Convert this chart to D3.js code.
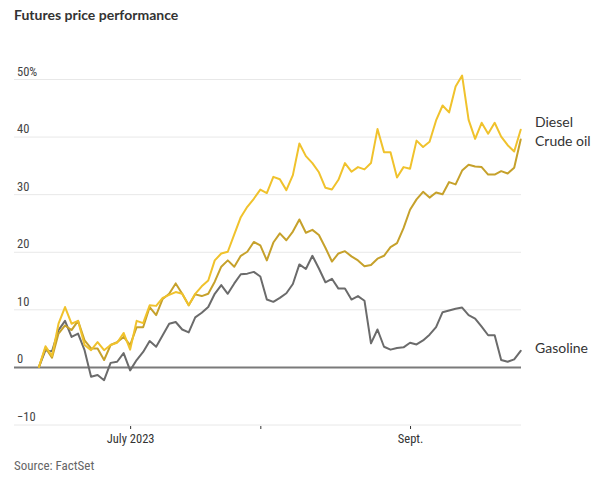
<!DOCTYPE html>
<html>
<head>
<meta charset="utf-8">
<script src="https://cdn.jsdelivr.net/npm/d3@7"></script>
<style>
  html, body { margin: 0; padding: 0; background: #fff; }
  svg { display: block; }
  .axis-label { font-family: "Liberation Sans Narrow", "Roboto Condensed", Lato, sans-serif; }
</style>
</head>
<body>
<svg id="chart" width="606" height="481"></svg>
<script>
// ---- data (trading-day index 0..74, mid-June to late Sept 2023) ----
const diesel = [0, 3.6, 1.9, 7.5, 10.4, 7.5, 8.0, 3.8, 2.9, 4.3, 2.9, 3.8, 4.2, 5.9, 3.0, 8.0, 7.6, 10.7, 10.6, 12.0,
  12.5, 13.0, 12.7, 10.7, 12.7, 14.0, 15.0, 18.5, 19.7, 20.0, 23.0, 26.0, 27.8, 29.2, 30.8, 30.2, 33.0, 32.6, 30.7, 33.3,
  38.8, 36.6, 35.4, 33.8, 31.1, 30.8, 32.5, 35.4, 33.9, 34.7, 34.3, 35.4, 41.3, 37.3, 37.3, 32.9, 34.7, 34.4, 39.3, 38.2,
  39.1, 42.8, 45.4, 44.2, 48.7, 50.6, 42.9, 39.6, 42.4, 40.5, 42.4, 40.0, 38.5, 37.4, 41.2];
const crude = [0, 3.3, 1.6, 5.8, 7.2, 6.4, 8.0, 4.6, 3.2, 3.2, 1.2, 3.8, 4.3, 5.2, 3.8, 6.9, 6.9, 10.4, 9.0, 11.8,
  12.7, 14.5, 12.7, 10.7, 12.6, 12.3, 12.7, 14.8, 17.4, 18.5, 17.4, 19.3, 20.0, 21.7, 21.1, 18.5, 21.6, 23.2, 22.0, 23.5,
  25.6, 23.3, 23.8, 22.9, 20.7, 18.3, 19.7, 20.1, 19.2, 18.5, 17.5, 17.7, 18.8, 19.3, 20.8, 21.5, 24.1, 27.3, 29.1, 30.4,
  29.4, 30.3, 30.0, 32.1, 31.7, 34.1, 35.1, 34.8, 34.7, 33.4, 33.4, 34.0, 33.6, 34.6, 39.5];
const gasoline = [0, 2.9, 2.7, 6.4, 8.0, 5.2, 5.8, 2.9, -1.7, -1.4, -2.3, 0.7, 0.9, 2.4, -0.6, 1.2, 2.6, 4.5, 3.5, 5.5,
  7.5, 7.8, 6.5, 6.0, 8.6, 9.4, 10.4, 12.7, 14.2, 12.7, 14.5, 16.1, 16.2, 16.5, 15.7, 11.7, 11.3, 12.0, 12.8, 14.4,
  17.8, 17.0, 19.3, 17.1, 14.7, 15.3, 13.6, 13.6, 11.7, 12.3, 11.5, 4.1, 6.5, 3.5, 3.0, 3.3, 3.4, 4.2, 3.9, 4.6,
  5.6, 6.9, 9.5, 9.8, 10.1, 10.3, 9.0, 8.4, 7.0, 5.5, 5.5, 1.2, 0.9, 1.3, 2.8];
const seriesNames = ["Diesel", "Crude oil", "Gasoline"];
const tickIndex = [14, 34, 57];           // July 3, Aug. 1, Sept. 1
const tickLabels = ["July 2023", "", "Sept."];
const yTicks = [-10, 0, 10, 20, 30, 40, 50];

// ---- layout ----
const svg = d3.select("#chart");
const colors = ["#f0c22c", "#c6a12b", "#6b6b6b"];
const gridLeft = 14, gridRight = 521;

const x = d3.scaleLinear().domain([0, diesel.length - 1]).range([39, 520.7]);
const y = d3.scaleLinear().domain([-10, 50]).range([424.5, 79]);

// title
svg.append("text")
  .attr("x", 14).attr("y", 20)
  .attr("font-family", "Lato, sans-serif")
  .attr("font-weight", 700)
  .attr("font-size", 14)
  .attr("fill", "#333")
  .text("Futures price performance");

// y axis / gridlines
const yAxis = d3.axisRight(y)
  .tickValues(yTicks)
  .tickSize(gridRight - gridLeft)
  .tickFormat(d => d === 50 ? "50%" : d3.format("d")(d));
const yg = svg.append("g")
  .attr("transform", `translate(${gridLeft},0)`)
  .call(yAxis);
yg.select(".domain").remove();
yg.selectAll(".tick line")
  .attr("stroke", d => d === 0 ? "#7a7a7a" : "#e8e8e8")
  .attr("stroke-width", d => d === 0 ? 2 : 1);
yg.selectAll(".tick text")
  .attr("class", "axis-label")
  .attr("x", 3)
  .attr("dy", -4)
  .attr("text-anchor", "start")
  .attr("font-size", 12.5)
  .attr("fill", "#444");
// zero line drawn on top later; keep the gridlines below the data

// x axis
const xAxis = d3.axisBottom(x)
  .tickValues(tickIndex)
  .tickSize(3)
  .tickPadding(5)
  .tickFormat((d, i) => tickLabels[i]);
const xg = svg.append("g")
  .attr("transform", `translate(0,${y(-10) + 1.5})`)
  .call(xAxis);
xg.select(".domain").remove();
xg.selectAll(".tick line").attr("stroke", "#333");
xg.selectAll(".tick text")
  .attr("class", "axis-label")
  .attr("font-size", 12.5)
  .attr("fill", "#333");

// lines
const line = d3.line().x((d, i) => x(i)).y(d => y(d));
const allSeries = [gasoline, crude, diesel];
const allColors = [colors[2], colors[1], colors[0]];
svg.append("g").selectAll("path")
  .data(allSeries)
  .join("path")
  .attr("d", line)
  .attr("fill", "none")
  .attr("stroke", (d, i) => allColors[i])
  .attr("stroke-width", 2)
  .attr("stroke-linejoin", "round")
  .attr("stroke-linecap", "round");

// end labels
const endSeries = [diesel, crude, gasoline];
const labelDy = [-2.5, 6.5, 2.5];
svg.append("g").selectAll("text")
  .data(seriesNames)
  .join("text")
  .attr("x", 535)
  .attr("y", (d, i) => y(endSeries[i][endSeries[i].length - 1]) + labelDy[i])
  .attr("font-family", "Lato, sans-serif")
  .attr("font-size", 14)
  .attr("fill", "#333")
  .text(d => d);

// source
svg.append("text")
  .attr("x", 14).attr("y", 470)
  .attr("class", "axis-label")
  .attr("font-size", 13)
  .attr("fill", "#666")
  .text("Source: FactSet");
</script>
</body>
</html>
